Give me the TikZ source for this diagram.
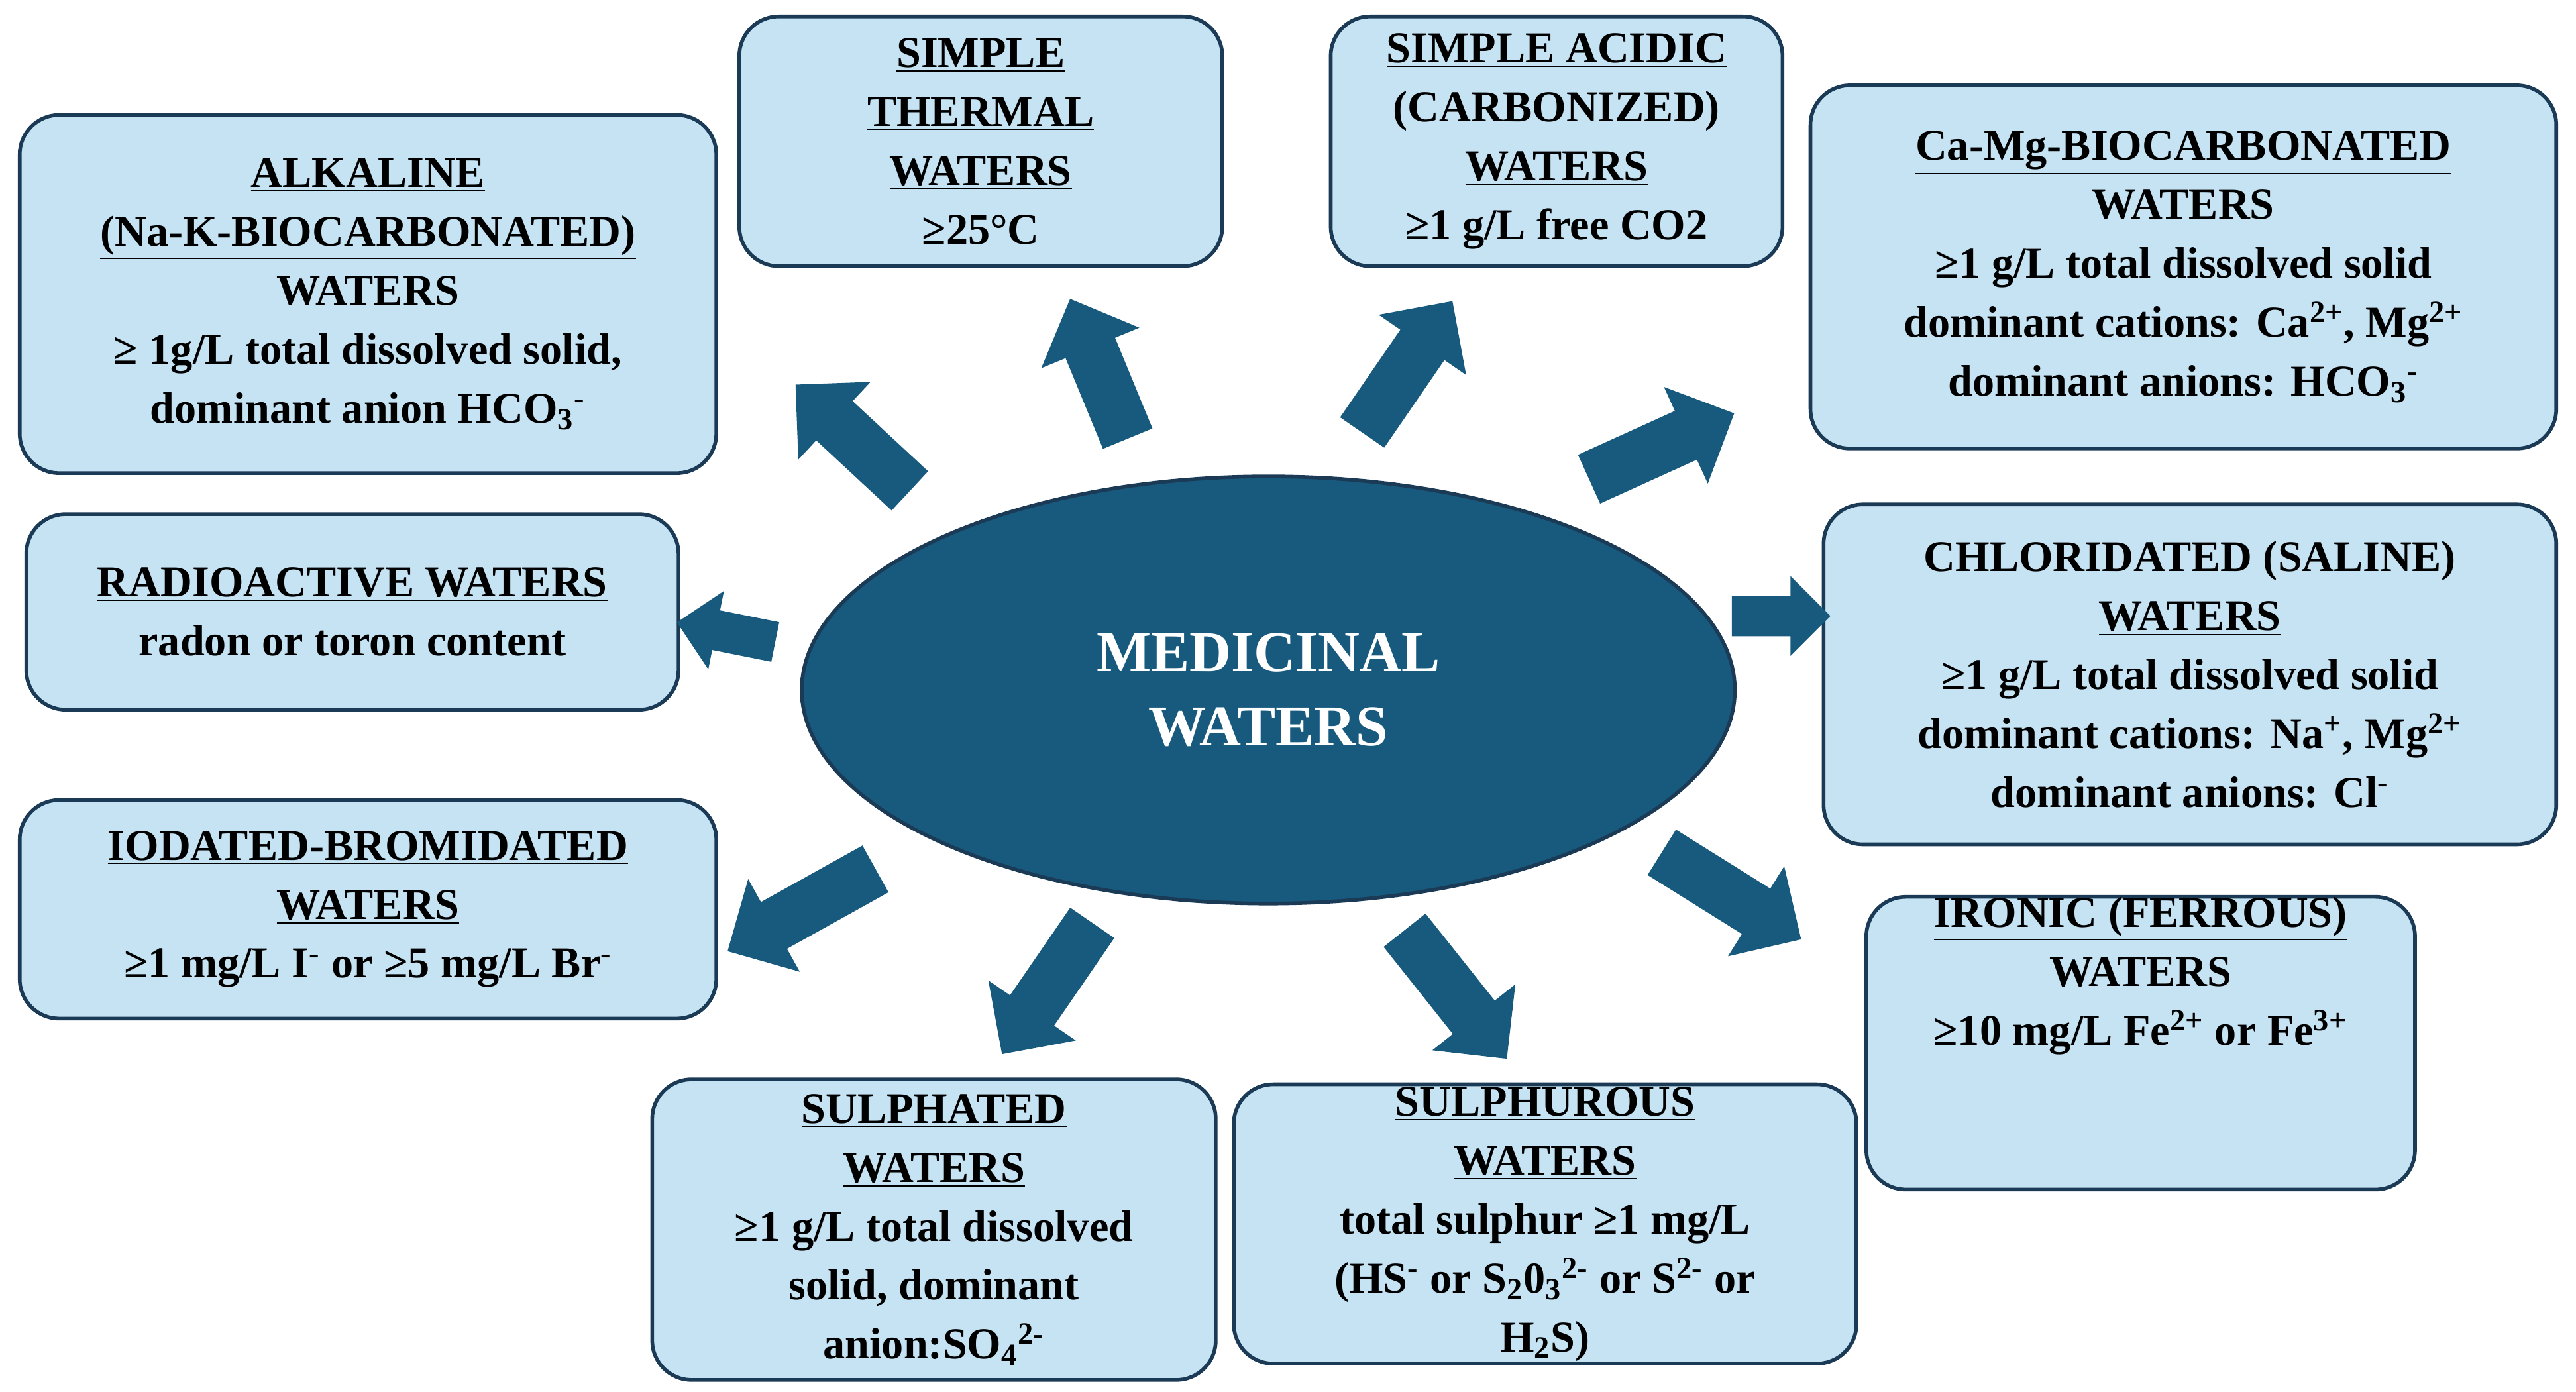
\documentclass[tikz,border=0pt]{standalone}
\usepackage{fontspec}
\setmainfont{Liberation Serif}
\newcommand{\uline}[1]{\underline{#1}}
\usetikzlibrary{shapes.geometric,shapes.arrows}
\definecolor{boxfill}{HTML}{C5E3F3}
\definecolor{boxline}{HTML}{1B3A55}
\definecolor{dark}{HTML}{175A7E}
\begin{document}
\begin{tikzpicture}[x=0.025cm,y=-0.025cm,
 box/.style={draw=boxline,line width=1.6pt,fill=boxfill,rounded corners=0.6cm,align=center,
   font=\bfseries\fontsize{19}{25.5}\selectfont,inner sep=0pt},
 arr/.style={single arrow,draw=none,fill=dark,inner sep=0.4cm,single arrow head extend=0.4cm,
   single arrow head indent=0pt,minimum height=#1*0.025cm}]
\useasboundingbox (0,0) rectangle (1568,847);
\newcommand{\bx}[6]{\node[box,minimum width=(#4-#2)*0.025cm,minimum height=(#5-#3)*0.025cm] (#1) at ({(#2+#4)/2},{(#3+#5)/2}) {#6};}
\bx{alk}{12}{70}{436}{288}{\uline{ALKALINE}\\\uline{(Na-K-BIOCARBONATED)}\\\uline{WATERS}\\≥ 1g/L total dissolved solid,\\dominant anion HCO\textsubscript{3}\textsuperscript{-}}
\bx{thr}{450}{10}{744}{162}{\uline{SIMPLE}\\\uline{THERMAL}\\\uline{WATERS}\\≥25°C}
\bx{acd}{810}{10}{1085}{162}{\uline{SIMPLE ACIDIC}\\\uline{(CARBONIZED)}\\\uline{WATERS}\\≥1 g/L free CO2}
\bx{cam}{1102}{52}{1556}{273}{\uline{Ca-Mg-BIOCARBONATED}\\\uline{WATERS}\\≥1 g/L total dissolved solid\\dominant cations: Ca\textsuperscript{2+}, Mg\textsuperscript{2+}\\dominant anions: HCO\textsubscript{3}\textsuperscript{-}}
\bx{rad}{16}{313}{413}{432}{\uline{RADIOACTIVE WATERS}\\radon or toron content}
\bx{chl}{1110}{307}{1556}{514}{\uline{CHLORIDATED (SALINE)}\\\uline{WATERS}\\≥1 g/L total dissolved solid\\dominant cations: Na\textsuperscript{+}, Mg\textsuperscript{2+}\\dominant anions: Cl\textsuperscript{-}}
\bx{iod}{12}{487}{436}{620}{\uline{IODATED-BROMIDATED}\\\uline{WATERS}\\≥1 mg/L I\textsuperscript{-} or ≥5 mg/L Br\textsuperscript{-}}
\bx{irn}{1136}{554}{1470}{716}{\uline{IRONIC (FERROUS)}\\\uline{WATERS}\\≥10 mg/L Fe\textsuperscript{2+} or Fe\textsuperscript{3+}\\[1.3cm]}
\bx{sph}{397}{657}{740}{840}{\uline{SULPHATED}\\\uline{WATERS}\\≥1 g/L total dissolved\\solid, dominant\\anion:SO\textsubscript{4}\textsuperscript{2-}}
\bx{spr}{751}{660}{1130}{830}{\uline{SULPHUROUS}\\\uline{WATERS}\\total sulphur ≥1 mg/L\\(HS\textsuperscript{-} or S\textsubscript{2}0\textsubscript{3}\textsuperscript{2-} or S\textsuperscript{2-} or\\H\textsubscript{2}S)}
\node[ellipse,draw=boxline,line width=1.6pt,fill=dark,minimum width=568*0.025cm,minimum height=260*0.025cm,
  text=white,align=center,font=\bfseries\fontsize{25}{32}\selectfont] (mw) at (772,420) {MEDICINAL\\WATERS};
\node[arr=95,rotate=137.1] (a1) at (525,272) {};
\node[arr=92,rotate=112.4] (a2) at (672,232) {};
\node[arr=97,rotate=55.5] (a3) at (852,230) {};
\node[arr=97,rotate=24.4] (a4) at (1004,275) {};
\node[arr=60,rotate=0,inner sep=0.3cm,single arrow head extend=0.3cm] (a5) at (1078,375) {};
\node[arr=61,rotate=168.7,inner sep=0.3cm,single arrow head extend=0.3cm] (a6) at (448,386) {};
\node[arr=103,rotate=209.1] (a7) at (495,550) {};
\node[arr=97,rotate=235.5] (a8) at (642,595) {};
\node[arr=100,rotate=-51.5] (a9) at (881,599) {};
\node[arr=100,rotate=-32] (a10) at (1047,541) {};
\end{tikzpicture}
\end{document}
